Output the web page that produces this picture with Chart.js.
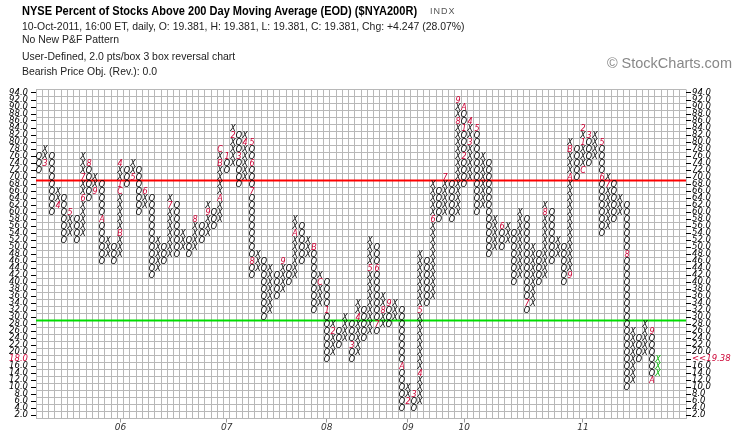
<!DOCTYPE html>
<html>
<head>
<meta charset="utf-8">
<title>NYSE Percent of Stocks Above 200 Day Moving Average - P&amp;F</title>
<script src="https://cdn.jsdelivr.net/npm/chart.js@4.4.1/dist/chart.umd.min.js"></script>
<style>
  html, body { margin: 0; padding: 0; background: #fff; }
  #wrap { position: relative; width: 745px; height: 440px; overflow: hidden; }
  #wrap canvas { position: absolute; left: 0; top: 0; }
  .t { position: absolute; left: 22px; white-space: nowrap; line-height: 1; transform-origin: 0 0;
       font-family: "Liberation Sans Narrow", "Liberation Sans", Arial, sans-serif; color: #222; }
  #title { top: 4px; font-size: 13px; font-weight: bold; color: #000; transform: scaleX(0.85); }
  #indx { left: 430px; top: 7px; font-size: 9px; color: #555; letter-spacing: 1px;
          font-family: "Liberation Sans", Arial, sans-serif; }
  .sub { font-size: 11px; transform: scaleX(0.95); }
  #copy { left: auto; right: 13px; top: 56px; font-size: 14.5px; color: #888; }
</style>
</head>
<body>
<div id="wrap">
  <canvas id="pf" width="745" height="440"></canvas>
  <div class="t" id="title">NYSE Percent of Stocks Above 200 Day Moving Average (EOD) ($NYA200R)</div>
  <div class="t" id="indx">INDX</div>
  <div class="t sub" style="top:21px">10-Oct-2011, 16:00 ET, daily, O: 19.381, H: 19.381, L: 19.381, C: 19.381, Chg: +4.247 (28.07%)</div>
  <div class="t sub" style="top:34px">No New P&amp;F Pattern</div>
  <div class="t sub" style="top:51px">User-Defined, 2.0 pts/box 3 box reversal chart</div>
  <div class="t sub" style="top:66px">Bearish Price Obj. (Rev.): 0.0</div>
  <div class="t" id="copy">&copy; StockCharts.com</div>
</div>
<script>
// P&F SETTINGS
const boxSize = 2;
const firstColumnType = "O";

// COLUMNS: top and bottom box of every column, left to right
const colTop = [76, 78, 76, 66, 64, 60, 58, 76, 74, 70,
                68, 52, 50, 74, 72, 74, 72, 66, 64, 52,
                50, 64, 62, 54, 52, 58, 56, 62, 60, 78,
                76, 84, 82, 82, 80, 48, 46, 44, 42, 46,
                44, 58, 56, 52, 50, 42, 40, 28, 26, 30,
                28, 34, 32, 52, 50, 36, 34, 34, 32, 10,
                8, 48, 46, 68, 66, 70, 68, 92, 90, 86,
                84, 76, 74, 58, 56, 56, 54, 60, 58, 50,
                48, 62, 60, 52, 50, 80, 78, 84, 82, 82,
                80, 70, 68, 64, 62, 26, 24, 28, 26, 18];
const colBottom = [72, 74, 60, 62, 52, 54, 52, 54, 64, 66,
                   46, 48, 46, 48, 68, 70, 60, 62, 42, 44,
                   46, 48, 48, 50, 48, 50, 52, 54, 56, 58,
                   72, 74, 68, 70, 42, 44, 30, 32, 36, 38,
                   40, 42, 46, 48, 32, 34, 18, 20, 22, 24,
                   18, 20, 24, 26, 26, 28, 28, 30, 4, 6,
                   4, 6, 34, 36, 58, 60, 58, 60, 68, 70,
                   60, 62, 48, 50, 50, 52, 40, 42, 32, 34,
                   40, 42, 46, 48, 40, 42, 70, 72, 74, 76,
                   54, 56, 58, 60, 10, 12, 18, 20, 12, 14];

// MONTH MARKERS (1-9, A-C) that replace a box
const markCol  = [1, 3, 5, 7, 7, 8, 9, 10, 13, 13, 13, 13, 15, 17, 21, 25, 27, 29, 29, 29,
                  30, 31, 32, 33, 34, 34, 34, 34, 39, 41, 44, 45, 46, 47, 50, 51, 53, 54, 54, 55,
                  56, 58, 59, 60, 61, 61, 63, 65, 67, 67, 68, 68, 68, 69, 69, 70, 74, 78, 81, 85,
                  85, 85, 87, 87, 87, 88, 90, 90, 91, 94, 98, 98];
const markBox  = [74, 62, 60, 64, 70, 74, 66, 58, 54, 66, 68, 74, 70, 66, 62, 58, 60, 64, 74, 78,
                  76, 82, 76, 80, 80, 74, 66, 46, 46, 54, 50, 40, 32, 26, 22, 30, 44, 44, 28, 32,
                  34, 16, 6, 8, 14, 32, 58, 70, 86, 92, 90, 84, 76, 80, 86, 84, 56, 34, 60, 42,
                  70, 78, 72, 80, 84, 82, 80, 70, 68, 48, 26, 12];
const markText = ["3", "4", "5", "6", "7", "8", "9", "A", "B", "C", "1", "4", "5", "6", "7", "8", "9", "A", "B", "C",
                  "1", "2", "3", "4", "5", "6", "7", "8", "9", "A", "B", "C", "1", "2", "3", "4", "5", "6", "7", "8",
                  "9", "A", "2", "3", "4", "5", "6", "7", "8", "9", "A", "1", "2", "3", "4", "5", "6", "7", "8", "9",
                  "A", "B", "C", "1", "2", "3", "5", "6", "7", "8", "9", "A"];

// YEAR LABELS
const yearCol = [13, 30, 46, 59, 68, 87];
const yearText = ["06", "07", "08", "09", "10", "11"];

// REFERENCE LINES (on the box edge under 70 and 30)
const levelValue = [69, 29];
const levelColor = ["#ff0000", "#00dd00"];

// LAST PRICE
const lastPrice = 19.38;
const lastBox = 18;

// AXIS RANGE
const xMin = -0.5, xMax = 103.5;
const yMin = 1, yMax = 95;

const markColor = "#cc0033";
const gridColor = "#b8b8b8";
const tickFont = { family: '"DejaVu Sans", sans-serif', size: 8.5, style: "italic" };

// GLYPHS
const glyphCache = {};
function glyph(text, color) {
  const key = text + color;
  if (glyphCache[key]) return glyphCache[key];
  const cv = document.createElement("canvas");
  cv.width = 10;
  cv.height = 10;
  const g = cv.getContext("2d");
  g.font = 'italic 8px "DejaVu Sans"';
  g.fillStyle = color;
  g.textAlign = "center";
  g.textBaseline = "alphabetic";
  g.fillText(text, 5, 8);
  glyphCache[key] = cv;
  return cv;
}

// BUILD BOXES
const markAt = {};
markCol.forEach((c, i) => { markAt[c + ":" + markBox[i]] = markText[i]; });

const xBoxes = [], oBoxes = [], marks = [], current = [];
const lastCol = colTop.length - 1;
colTop.forEach((top, c) => {
  const isX = (c % 2 === 0) === (firstColumnType === "X");
  for (let v = colBottom[c]; v <= top; v += boxSize) {
    const m = markAt[c + ":" + v];
    if (m) marks.push({ x: c, y: v, g: m });
    else if (c === lastCol) current.push({ x: c, y: v });
    else (isX ? xBoxes : oBoxes).push({ x: c, y: v });
  }
});

const levelSets = levelValue.map((lv, i) => ({
  type: "line",
  data: [{ x: xMin, y: lv }, { x: xMax, y: lv }],
  borderColor: levelColor[i],
  borderWidth: 2,
  pointRadius: 0,
  order: 10
}));

function yAxis(position) {
  const right = position === "right";
  return {
    type: "linear",
    min: yMin,
    max: yMax,
    position: position,
    afterBuildTicks: s => {
      s.ticks = [];
      for (let v = yMin; v <= yMax; v++) s.ticks.push({ value: v });
    },
    grid: {
      drawOnChartArea: !right,
      color: c => (c.tick.value % 2 ? gridColor : "rgba(0,0,0,0)"),
      tickColor: c => (c.tick.value % 2 ? "rgba(0,0,0,0)" : "#000"),
      tickLength: 5
    },
    border: { display: false },
    ticks: {
      autoSkip: false,
      padding: right ? 1 : 3,
      font: tickFont,
      color: c => (c.tick.value === lastBox ? markColor : "#000"),
      callback: v => {
        if (v % 2) return "";
        if (right && v === lastBox) return "<<" + lastPrice.toFixed(2);
        return v.toFixed(1);
      }
    },
    afterFit: s => { s.width = right ? 59 : 36; }
  };
}

new Chart(document.getElementById("pf"), {
  type: "scatter",
  data: {
    datasets: [
      { label: "X", data: xBoxes, pointStyle: glyph("X", "#000"), pointRadius: 3 },
      { label: "O", data: oBoxes, pointStyle: glyph("O", "#000"), pointRadius: 3 },
      { label: "Month", data: marks, pointRadius: 3,
        pointStyle: c => (c.raw ? glyph(c.raw.g, markColor) : "circle") },
      { label: "Current", data: current, pointStyle: glyph("X", "#00b400"), pointRadius: 3 }
    ].concat(levelSets)
  },
  options: {
    responsive: false,
    animation: false,
    devicePixelRatio: 1,
    events: [],
    layout: { padding: { top: 89.5, left: 0, right: 0, bottom: 0 } },
    plugins: { legend: { display: false }, tooltip: { enabled: false } },
    scales: {
      x: {
        type: "linear", min: xMin, max: xMax, position: "bottom",
        afterBuildTicks: s => {
          s.ticks = [];
          for (let v = xMin; v <= xMax; v += 1) s.ticks.push({ value: v });
        },
        grid: { color: gridColor, drawTicks: false },
        border: { display: false },
        ticks: { display: false },
        afterFit: s => { s.height = 0; }
      },
      years: {
        type: "linear", min: xMin, max: xMax, position: "bottom",
        afterBuildTicks: s => { s.ticks = yearCol.map(v => ({ value: v })); },
        grid: { drawOnChartArea: false, tickLength: 4, tickColor: "#999" },
        border: { display: false },
        ticks: { autoSkip: false, maxRotation: 0, padding: 0, color: "#333",
                 font: { family: '"DejaVu Sans", sans-serif', size: 9, style: "italic" },
                 callback: (v, i) => yearText[i] },
        afterFit: s => { s.height = 21.5; }
      },
      y: yAxis("left"),
      y2: yAxis("right")
    }
  },
  plugins: [{
    id: "crispGlyphs",
    beforeDatasetsDraw: chart => { chart.ctx.imageSmoothingEnabled = false; }
  }]
});
</script>
</body>
</html>
